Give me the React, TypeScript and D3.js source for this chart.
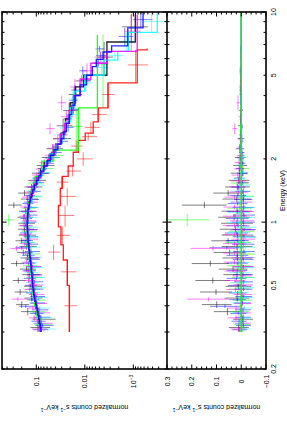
import React from "react";
import * as d3 from "d3";

// ---------------- data (energy bin edges in keV, normalized counts s^-1 keV^-1) ----------------
const blackEdges = [0.30,0.33,0.36,0.39,0.42,0.45,0.48,0.51,0.545,0.58,0.615,0.655,0.695,0.74,0.79,0.84,0.895,0.955,1.02,1.09,1.165,1.245,1.33,1.42,1.52,1.64,1.78,1.94,2.12,2.35,2.65,3.1,3.7,4.4,5.0,7.2,9.8];
const blackData = [0.092,0.080,0.150,0.200,0.125,0.215,0.128,0.235,0.140,0.160,0.255,0.150,0.185,0.160,0.200,0.165,0.175,0.170,0.180,0.165,0.290,0.150,0.175,0.125,0.105,0.088,0.070,0.055,0.045,0.032,0.028,0.021,0.0165,0.0115,0.0040,0.0011];
const blackErr = [0.040,0.040,0.055,0.060,0.050,0.065,0.052,0.070,0.055,0.058,0.075,0.060,0.065,0.062,0.068,0.064,0.064,0.064,0.064,0.062,0.090,0.058,0.060,0.050,0.042,0.035,0.028,0.022,0.017,0.013,0.010,0.007,0.005,0.004,0.0014,0.0006];
const blackModel = [0.082,0.087,0.094,0.101,0.108,0.113,0.117,0.120,0.123,0.127,0.130,0.134,0.138,0.143,0.147,0.150,0.152,0.153,0.151,0.148,0.141,0.132,0.122,0.110,0.096,0.081,0.066,0.051,0.040,0.031,0.025,0.020,0.0155,0.0105,0.0035,0.00091];

const redEdges = [0.30,0.50,0.66,0.78,0.95,1.2,1.45,1.65,1.85,2.15,2.45,2.65,3.0,3.5,4.6,6.6,6.7];
const redData = [0.0205,0.0230,0.0440,0.029,0.0255,0.023,0.030,0.018,0.0108,0.0150,0.0085,0.0075,0.0053,0.0034,0.0009,null];
const redErr = [0.006,0.008,0.012,0.009,0.009,0.008,0.008,0.006,0.004,0.004,0.003,0.0025,0.0018,0.0010,0.0004,null];
const redModel = [0.0209,0.0229,0.0277,0.031,0.035,0.032,0.029,0.022,0.0173,0.0136,0.0098,0.0067,0.0053,0.0033,0.00083,0.00052];

const greenEdges = [0.30,0.35,0.40,0.45,0.51,0.58,0.66,0.75,0.85,0.96,1.09,1.24,1.42,1.65,1.95,2.2,3.5,7.8];
const greenData = [0.078,0.100,0.103,0.125,0.115,0.142,0.131,0.160,0.150,0.370,0.152,0.120,0.112,0.070,0.043,0.0150,0.0042];
const greenErr = [0.032,0.036,0.039,0.042,0.044,0.047,0.049,0.052,0.052,0.090,0.049,0.044,0.036,0.026,0.015,0.004,0.0009];
const greenModel = [0.084,0.096,0.108,0.116,0.122,0.130,0.139,0.147,0.152,0.152,0.145,0.128,0.105,0.077,0.045,0.0136,0.0055];

const blueEdges = [0.30,0.315,0.33,0.345,0.36,0.375,0.39,0.405,0.42,0.435,0.45,0.47,0.49,0.51,0.53,0.55,0.575,0.60,0.625,0.65,0.68,0.71,0.74,0.77,0.80,0.835,0.87,0.905,0.94,0.98,1.02,1.06,1.10,1.15,1.20,1.25,1.31,1.37,1.43,1.50,1.58,1.66,1.75,1.85,1.96,2.08,2.21,2.35,2.5,2.7,2.95,3.25,3.6,4.0,4.5,5.0,5.5,5.95,6.45,6.9,8.4,10.0];
const blueData = [0.086,0.074,0.095,0.082,0.104,0.088,0.165,0.098,0.121,0.100,0.128,0.107,0.134,0.110,0.140,0.116,0.142,0.119,0.146,0.125,0.152,0.128,0.200,0.137,0.163,0.138,0.170,0.140,0.166,0.145,0.168,0.139,0.162,0.136,0.154,0.125,0.140,0.112,0.121,0.094,0.098,0.075,0.076,0.057,0.055,0.040,0.039,0.029,0.029,0.022,0.023,0.0172,0.0175,0.0160,0.0098,0.0110,0.0052,0.0047,0.0050,0.0015,0.0007];
const blueErr = [0.030,0.030,0.031,0.031,0.032,0.032,0.060,0.033,0.034,0.034,0.036,0.036,0.038,0.038,0.040,0.040,0.041,0.041,0.042,0.042,0.044,0.044,0.070,0.045,0.046,0.046,0.047,0.047,0.047,0.047,0.046,0.045,0.044,0.042,0.040,0.037,0.034,0.031,0.028,0.025,0.022,0.019,0.016,0.014,0.012,0.010,0.008,0.007,0.006,0.005,0.0045,0.004,0.0035,0.003,0.0024,0.002,0.0016,0.0012,0.0010,0.0005,0.0003];
const blueModel = [0.080,0.083,0.086,0.089,0.092,0.095,0.099,0.103,0.107,0.110,0.113,0.116,0.118,0.120,0.121,0.123,0.126,0.128,0.130,0.133,0.136,0.139,0.142,0.145,0.147,0.149,0.151,0.152,0.153,0.153,0.152,0.150,0.148,0.144,0.139,0.133,0.126,0.118,0.110,0.100,0.090,0.080,0.070,0.060,0.051,0.043,0.036,0.031,0.027,0.024,0.021,0.0185,0.016,0.0125,0.0092,0.0070,0.0058,0.0042,0.0028,0.0013,0.00063];

const cyanEdges = [0.30,0.32,0.34,0.36,0.38,0.40,0.425,0.45,0.475,0.50,0.53,0.56,0.59,0.625,0.66,0.70,0.74,0.78,0.825,0.87,0.92,0.97,1.025,1.08,1.14,1.21,1.28,1.36,1.45,1.55,1.66,1.79,1.94,2.12,2.35,2.62,3.0,3.5,4.2,5.0,5.9,6.5,8.0,10.0];
const cyanData = [0.070,0.088,0.078,0.098,0.084,0.108,0.094,0.118,0.100,0.126,0.105,0.132,0.110,0.138,0.118,0.146,0.125,0.155,0.132,0.160,0.137,0.165,0.140,0.158,0.130,0.146,0.115,0.126,0.097,0.098,0.072,0.068,0.046,0.043,0.029,0.027,0.019,0.0175,0.0095,0.0045,0.0024,0.0014,0.00042];
const cyanErr = [0.030,0.031,0.031,0.032,0.032,0.034,0.034,0.036,0.036,0.038,0.038,0.040,0.040,0.042,0.042,0.044,0.044,0.045,0.045,0.046,0.046,0.046,0.045,0.044,0.042,0.040,0.037,0.033,0.029,0.025,0.021,0.017,0.013,0.010,0.008,0.006,0.005,0.004,0.0025,0.0012,0.0008,0.0005,0.0002];
const cyanModel = [0.081,0.085,0.089,0.093,0.097,0.103,0.109,0.113,0.116,0.119,0.121,0.124,0.127,0.130,0.134,0.138,0.142,0.146,0.149,0.151,0.153,0.153,0.151,0.149,0.144,0.137,0.128,0.118,0.106,0.092,0.078,0.064,0.050,0.040,0.032,0.025,0.020,0.0160,0.0100,0.0040,0.0021,0.00127,0.00032];

const magentaEdges = [0.30,0.32,0.34,0.36,0.38,0.40,0.42,0.44,0.465,0.49,0.515,0.54,0.57,0.60,0.63,0.66,0.695,0.73,0.77,0.81,0.85,0.895,0.94,0.99,1.04,1.095,1.15,1.21,1.28,1.35,1.43,1.52,1.62,1.73,1.85,1.99,2.15,2.35,2.62,2.95,3.4,4.0,4.8,5.7,6.5,9.7];
const magentaData = [0.092,0.078,0.110,0.086,0.118,0.096,0.240,0.105,0.138,0.110,0.145,0.118,0.150,0.122,0.158,0.128,0.165,0.255,0.172,0.140,0.176,0.146,0.180,0.150,0.175,0.143,0.170,0.135,0.156,0.132,0.125,0.108,0.098,0.080,0.068,0.052,0.046,0.036,0.052,0.024,0.030,0.016,0.0090,0.0048,0.0011];
const magentaErr = [0.032,0.032,0.033,0.034,0.035,0.036,0.085,0.037,0.038,0.039,0.040,0.041,0.042,0.043,0.044,0.045,0.046,0.090,0.047,0.048,0.048,0.049,0.049,0.049,0.048,0.047,0.045,0.043,0.040,0.037,0.033,0.029,0.025,0.021,0.018,0.015,0.012,0.010,0.010,0.007,0.006,0.004,0.0025,0.0015,0.0004];
const magentaModel = [0.081,0.085,0.089,0.093,0.097,0.102,0.107,0.111,0.115,0.118,0.120,0.122,0.125,0.128,0.131,0.134,0.138,0.141,0.145,0.148,0.150,0.152,0.153,0.153,0.151,0.148,0.143,0.137,0.129,0.120,0.109,0.097,0.084,0.071,0.059,0.048,0.040,0.032,0.026,0.021,0.017,0.0125,0.0075,0.0035,0.00083];

// ---------------- ticks ----------------
const energyLabelValues = [0.2, 0.5, 1, 2, 5, 10];
const energyLabelTexts = ["0.2", "0.5", "1", "2", "5", "10"];
const energyMajorTicks = [1, 10];
const countLabelValues = [0.1, 0.01, 0.001];
const residLabelValues = [0.3, 0.2, 0.1, 0, -0.1];
const residLabelTexts = ["0.3", "0.2", "0.1", "0", "\u22120.1"];

const FONT = "'Liberation Sans', Arial, Helvetica, sans-serif";

type DS = { color: string; edges: number[]; data: (number | null)[]; err: (number | null)[]; model: number[] };

export default function App() {
  const W = 287, H = 436;
  const left = 2, mid = 167, right = 266, top = 12, bottom = 369;

  const yE = d3.scaleLog().domain([0.2, 10]).range([bottom, top]);
  const xS = d3.scaleLog().domain([0.509, 2.02e-4]).range([left, mid]);
  const xR = d3.scaleLinear().domain([0.3, -0.1]).range([mid, right]);

  const datasets: DS[] = [
    { color: "#000000", edges: blackEdges, data: blackData, err: blackErr, model: blackModel },
    { color: "#ff0000", edges: redEdges, data: redData, err: redErr, model: redModel },
    { color: "#00ff00", edges: greenEdges, data: greenData, err: greenErr, model: greenModel },
    { color: "#0000ff", edges: blueEdges, data: blueData, err: blueErr, model: blueModel },
    { color: "#00ffff", edges: cyanEdges, data: cyanData, err: cyanErr, model: cyanModel },
    { color: "#ff00ff", edges: magentaEdges, data: magentaData, err: magentaErr, model: magentaModel },
  ];
  const modelOrder = [0, 1, 2, 4, 5, 3];

  const floorV = 1e-5;
  const lineGen = d3.line<[number, number]>().x((d) => d[0]).y((d) => d[1]);

  const specCross = (ds: DS, key: string) =>
    ds.data.map((v, i) => {
      if (v == null) return null;
      const e = ds.err[i] as number;
      const lo = ds.edges[i], hi = ds.edges[i + 1], c = (lo + hi) / 2;
      const x = xS(v), y = yE(c);
      return (
        <g key={key + i}>
          <line x1={x} x2={x} y1={yE(lo)} y2={yE(hi)} />
          <line x1={xS(v + e)} x2={xS(Math.max(v - e, floorV))} y1={y} y2={y} />
        </g>
      );
    });

  const residCross = (ds: DS, key: string) =>
    ds.data.map((v, i) => {
      if (v == null) return null;
      const e = ds.err[i] as number;
      const r = v - ds.model[i];
      const lo = ds.edges[i], hi = ds.edges[i + 1], c = (lo + hi) / 2;
      const x = xR(r), y = yE(c);
      return (
        <g key={key + i}>
          <line x1={x} x2={x} y1={yE(lo)} y2={yE(hi)} />
          <line x1={xR(r + e)} x2={xR(r - e)} y1={y} y2={y} />
        </g>
      );
    });

  const modelPath = (ds: DS) => {
    const pts: [number, number][] = [];
    ds.model.forEach((m, i) => {
      pts.push([xS(m), yE(ds.edges[i])]);
      pts.push([xS(m), yE(ds.edges[i + 1])]);
    });
    return lineGen(pts) || "";
  };

  const eTicks = yE.ticks();
  const sTicks = xS.ticks();
  const rTicks = xR.ticks(20);
  const majLen = 4.5, minLen = 2.5;
  const isMajorE = (t: number) => energyMajorTicks.some((m) => Math.abs(m - t) < 1e-9);
  const isMajorS = (t: number) => Math.abs(Math.log10(t) - Math.round(Math.log10(t))) < 1e-6;
  const isMajorR = (t: number) => Math.abs(t * 10 - Math.round(t * 10)) < 1e-6;

  const tickEls: JSX.Element[] = [];
  eTicks.forEach((t, i) => {
    const y = yE(t);
    const L = isMajorE(t) ? majLen : minLen;
    tickEls.push(<line key={"e1" + i} x1={left} x2={left + L} y1={y} y2={y} />);
    tickEls.push(<line key={"e2" + i} x1={mid - L} x2={mid + L} y1={y} y2={y} />);
    tickEls.push(<line key={"e3" + i} x1={right - L} x2={right} y1={y} y2={y} />);
  });
  sTicks.forEach((t, i) => {
    const x = xS(t);
    if (x < left || x > mid) return;
    const L = isMajorS(t) ? majLen : minLen;
    tickEls.push(<line key={"s1" + i} x1={x} x2={x} y1={bottom} y2={bottom - L} />);
    tickEls.push(<line key={"s2" + i} x1={x} x2={x} y1={top} y2={top + L} />);
  });
  rTicks.forEach((t, i) => {
    const x = xR(t);
    const L = isMajorR(t) ? majLen : minLen;
    tickEls.push(<line key={"r1" + i} x1={x} x2={x} y1={bottom} y2={bottom - L} />);
    tickEls.push(<line key={"r2" + i} x1={x} x2={x} y1={top} y2={top + L} />);
  });

  const titleText = (
    <>
      normalized counts s<tspan dy={-2.5} fontSize={5}>{"\u22121"}</tspan>
      <tspan dy={2.5}> keV</tspan>
      <tspan dy={-2.5} fontSize={5}>{"\u22121"}</tspan>
    </>
  );

  return (
    <svg width={W} height={H} style={{ position: "absolute", left: 0, top: 0, background: "#fff" }} fontFamily={FONT}>
      <defs>
        <clipPath id="clipS"><rect x={left} y={top} width={mid - left} height={bottom - top} /></clipPath>
        <clipPath id="clipR"><rect x={mid} y={top} width={right - mid} height={bottom - top} /></clipPath>
      </defs>
      <rect x={0} y={0} width={W} height={H} fill="#fff" />

      <g clipPath="url(#clipS)">
        {datasets.map((ds, k) => (
          <g key={"sd" + k} stroke={ds.color} strokeOpacity={0.5} strokeWidth={1} fill="none">
            {specCross(ds, "sd" + k)}
          </g>
        ))}
        {modelOrder.map((k) => (
          <path key={"m" + k} d={modelPath(datasets[k])} stroke={datasets[k].color} strokeWidth={1.35} strokeOpacity={0.85} fill="none" />
        ))}
      </g>

      <g clipPath="url(#clipR)">
        {datasets.map((ds, k) => (
          <g key={"rd" + k} stroke={ds.color} strokeOpacity={0.5} strokeWidth={1} fill="none">
            {residCross(ds, "rd" + k)}
          </g>
        ))}
        <line x1={xR(0)} x2={xR(0)} y1={yE(0.3)} y2={yE(10)} stroke="#00ff00" strokeWidth={1.5} />
      </g>

      <g stroke="#000" strokeWidth={1}>{tickEls}</g>
      <rect x={left} y={top} width={right - left} height={bottom - top} fill="none" stroke="#000" strokeWidth={1.6} />
      <line x1={mid} x2={mid} y1={top} y2={bottom} stroke="#000" strokeWidth={1.6} />

      <g fontSize={7} fill="#000" textAnchor="middle">
        {energyLabelValues.map((v, i) => (
          <text key={"el" + i} transform={`translate(275.5,${yE(v)}) rotate(-90)`}>{energyLabelTexts[i]}</text>
        ))}
        <text transform={`translate(284.5,${(top + bottom) / 2}) rotate(-90)`}>Energy (keV)</text>

        {countLabelValues.map((v, i) => (
          <text key={"cl" + i} transform={`translate(${xS(v) + 2.5},381.5) rotate(-90)`}>
            {v === 0.001 ? (
              <>
                10<tspan dy={-2.5} fontSize={5}>{"\u22123"}</tspan>
              </>
            ) : v === 0.01 ? "0.01" : "0.1"}
          </text>
        ))}
        {residLabelValues.map((v, i) => (
          <text key={"rl" + i} transform={`translate(${xR(v) + 2.5},381.5) rotate(-90)`}>{residLabelTexts[i]}</text>
        ))}

        <text transform={`translate(${(left + mid) / 2},405) rotate(180)`}>{titleText}</text>
        <text transform={`translate(${(mid + right) / 2},405) rotate(180)`}>{titleText}</text>
      </g>
    </svg>
  );
}
